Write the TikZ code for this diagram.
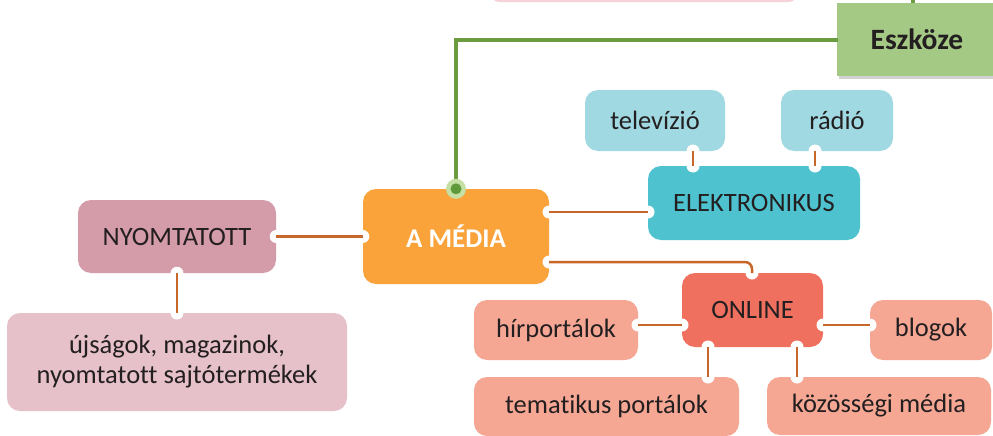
\documentclass[tikz,border=0pt]{standalone}
\usepackage{fontspec}
\setmainfont[Ligatures=NoCommon]{Carlito}
\usetikzlibrary{shadows,calc}
\definecolor{txt}{HTML}{231F20}
\definecolor{cOrange}{HTML}{F9A33A}
\definecolor{cTeal}{HTML}{4EC3CF}
\definecolor{cLBlue}{HTML}{A1D9E3}
\definecolor{cMauve}{HTML}{D49BA9}
\definecolor{cLPink}{HTML}{E6C1C9}
\definecolor{cRed}{HTML}{F07060}
\definecolor{cSalmon}{HTML}{F5A794}
\definecolor{cGreen}{HTML}{A4C985}
\definecolor{cBrown}{HTML}{C8672A}
\definecolor{cGLine}{HTML}{6B9C3F}
\definecolor{cGDot}{HTML}{5E9A3A}
\definecolor{cGRing}{HTML}{C5E0A5}
\definecolor{cTop}{HTML}{F5D3DA}
\begin{document}
\begin{tikzpicture}[x=1pt,y=-1pt,
  box/.style={rounded corners=13pt, inner sep=0pt, text=txt, align=center,
    font=\fontsize{26.5}{30}\selectfont},
  notch/.style={circle, fill=white, minimum size=13pt, inner sep=0pt},
  link/.style={draw=cBrown, line width=2.5pt},
  gline/.style={draw=cGLine, line width=4pt}]
\fill[white] (0,0) rectangle (993,436);
\useasboundingbox (0,0) rectangle (993,436);
\clip (0,0) rectangle (993,436);

% top partial box
\node[box, fill=cTop, draw=cTop!80!red!60!white, minimum width=312pt, minimum height=40pt] (top) at (644,-18) {};

% Eszkoze
\node[fill=cGreen, minimum width=160pt, minimum height=73pt, inner sep=0pt,
  drop shadow={shadow xshift=2pt, shadow yshift=-3pt, opacity=0.35},
  font=\fontsize{29.5}{32}\selectfont\bfseries, text=txt] (eszk) at (917,39.5) {Eszköze};
\coordinate (eszktop) at (913,0);
\coordinate (eszkleft) at (838,40);

% boxes
\node[box, fill=cOrange, minimum width=186pt, minimum height=95pt, text=white,
  font=\fontsize{27}{30}\selectfont\bfseries] (media) at (456,236.5) {A MÉDIA};
\node[box, fill=cTeal, minimum width=212pt, minimum height=74pt] (elek) at (754,203) {ELEKTRONIKUS};
\node[box, fill=cLBlue, minimum width=140pt, minimum height=61pt] (tv) at (655,120.5) {televízió};
\node[box, fill=cLBlue, minimum width=112pt, minimum height=61pt] (radio) at (837,120.5) {rádió};
\node[box, fill=cMauve, minimum width=198pt, minimum height=73pt] (nyom) at (177,236.5) {NYOMTATOTT};
\node[box, fill=cLPink, minimum width=340pt, minimum height=98pt] (ujs) at (177,362) {újságok, magazinok,\\nyomtatott sajtótermékek};
\node[box, fill=cRed, minimum width=141pt, minimum height=74pt] (online) at (752.5,310) {ONLINE};
\node[box, fill=cSalmon, minimum width=164pt, minimum height=60pt] (hir) at (556,330) {hírportálok};
\node[box, fill=cSalmon, minimum width=122pt, minimum height=60pt] (blog) at (931,330) {blogok};
\node[box, fill=cSalmon, minimum width=265pt, minimum height=59pt] (tema) at (606.5,406.5) {tematikus portálok};
\node[box, fill=cSalmon, minimum width=224pt, minimum height=58pt] (kozos) at (879,406) {közösségi média};

% notch coordinates
\coordinate (mL) at (media.west);
\coordinate (mR1) at (549,212);
\coordinate (mR2) at (549,262);
\coordinate (mT) at (media.north);
\coordinate (eL) at (648,212);
\coordinate (eT1) at (693,166);
\coordinate (eT2) at (815,166);
\coordinate (tvB) at (693,151);
\coordinate (rB) at (815,151);
\coordinate (nR) at (nyom.east);
\coordinate (nB) at (nyom.south);
\coordinate (uT) at (177,313);
\coordinate (oT) at (752,273);
\coordinate (oL) at (682,325);
\coordinate (oR) at (823,325);
\coordinate (oB1) at (708,347);
\coordinate (oB2) at (797,347);
\coordinate (hR) at (638,325);
\coordinate (bL) at (870,325);
\coordinate (tT) at (708,377);
\coordinate (kT) at (797,377);

\foreach \p in {mL,mR1,mR2,eL,eT1,eT2,tvB,rB,nR,nB,uT,oT,oL,oR,oB1,oB2,hR,bL,tT,kT}
  \node[notch] at (\p) {};

% links
\draw[link] (nR) -- (mL);
\draw[link] (nB) -- (uT);
\draw[link] (mR1) -- (eL);
\draw[link] (tvB) -- (eT1);
\draw[link] (rB) -- (eT2);
\draw[link, rounded corners=7pt] (mR2) -- (752,262) -- (oT);
\draw[link] (hR) -- (oL);
\draw[link] (oR) -- (bL);
\draw[link] (oB1) -- (tT);
\draw[link] (oB2) -- (kT);

% green line
\draw[gline] (eszkleft) -- (456,40) -- (mT);
\draw[gline] (eszktop) -- (eszk.north -| eszktop);
\fill[cGRing] (mT) circle (10pt);
\fill[cGDot] (mT) circle (5.5pt);
\end{tikzpicture}
\end{document}
